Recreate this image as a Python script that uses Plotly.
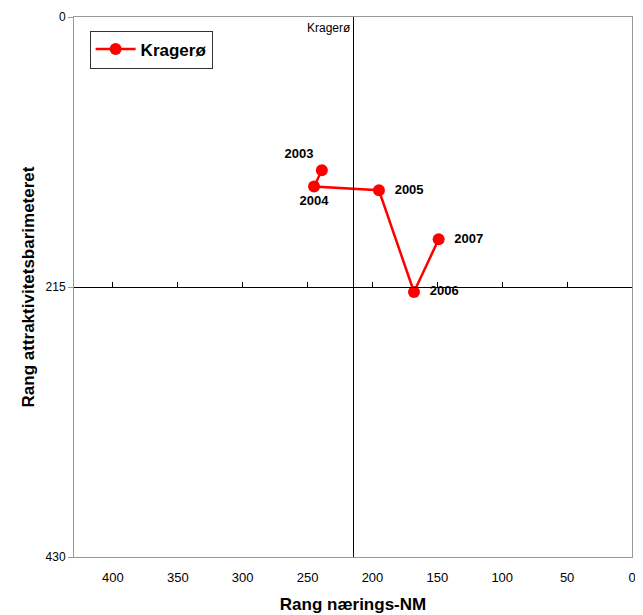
import plotly.graph_objects as go

# -----------------------------------------------------------------------------
# Data
# -----------------------------------------------------------------------------
years = ['2003', '2004', '2005', '2006', '2007']
rang_naering = [239, 245, 195, 168, 149]
rang_attraktivitet = [122, 135, 138, 219, 177]
label_pos = ['top left', 'bottom center', 'middle right', 'middle right', 'middle right']
x_ticks = [0, 50, 100, 150, 200, 250, 300, 350, 400]
y_ticks = [0, 215, 430]
midpoint = 215
axis_max = 430

font = 'Liberation Sans, Arial, sans-serif'

fig = go.Figure()
fig.add_trace(go.Scatter(
    x=rang_naering, y=rang_attraktivitet,
    mode='lines+markers+text',
    name='<b>Kragerø</b>',
    text=['<b>%s</b>' % y if p != 'middle right' else '<b>  %s</b>' % y for y, p in zip(years, label_pos)],
    textposition=label_pos,
    textfont=dict(size=13, color='black', family=font),
    line=dict(color='#FF0000', width=2.5),
    marker=dict(color='#FF0000', size=12),
))

# dummy trace so the crossing axes get drawn
fig.add_trace(go.Scatter(x=[None], y=[None], xaxis='x2', yaxis='y2',
                         showlegend=False, hoverinfo='skip'))

# page body has an 8px margin, so the figure is a bit smaller than the window
fig.update_layout(
    width=635, height=607,
    margin=dict(l=66, r=11, t=9, b=58, autoexpand=False),
    paper_bgcolor='white', plot_bgcolor='white',
    font=dict(family=font, size=13, color='black'),
    showlegend=True,
    legend=dict(x=0.028, y=0.975, xanchor='left', yanchor='top',
                bordercolor='#333333', borderwidth=1,
                font=dict(size=17, family=font),
                itemwidth=40, tracegroupgap=0),
    xaxis=dict(range=[axis_max, 0], tickvals=x_ticks, showgrid=False, zeroline=False,
               showline=True, linecolor='#999999', mirror=True, ticks='',
               tickfont=dict(size=13), ticklabelstandoff=8, automargin=False,
               title=dict(text='<b>Rang nærings-NM</b>', font=dict(size=17), standoff=14)),
    yaxis=dict(range=[axis_max, 0], tickvals=y_ticks, showgrid=False, zeroline=False,
               showline=True, linecolor='#999999', mirror=True, ticks='outside',
               ticklen=5, tickcolor='#999999', tickfont=dict(size=12), automargin=False,
               title=dict(text='<b>Rang attraktivitetsbarimeteret</b>', font=dict(size=17), standoff=6)),
    xaxis2=dict(range=[axis_max, 0], tickvals=x_ticks, overlaying='x', anchor='free',
                position=0.5, side='bottom', showline=True, linecolor='black', linewidth=1,
                ticks='inside', ticklen=5, tickcolor='black', showticklabels=False,
                showgrid=False, zeroline=False),
    yaxis2=dict(range=[axis_max, 0], tickvals=y_ticks, overlaying='y', anchor='free',
                position=0.5, side='left', showline=True, linecolor='black', linewidth=1,
                ticks='inside', ticklen=4, tickcolor='black', showticklabels=False,
                showgrid=False, zeroline=False),
    annotations=[dict(x=midpoint, y=0, xref='x', yref='y', text='Kragerø',
                      showarrow=False, xanchor='right', yanchor='top', yshift=-2,
                      font=dict(size=12, family=font))],
)

fig.write_html('out.html')
